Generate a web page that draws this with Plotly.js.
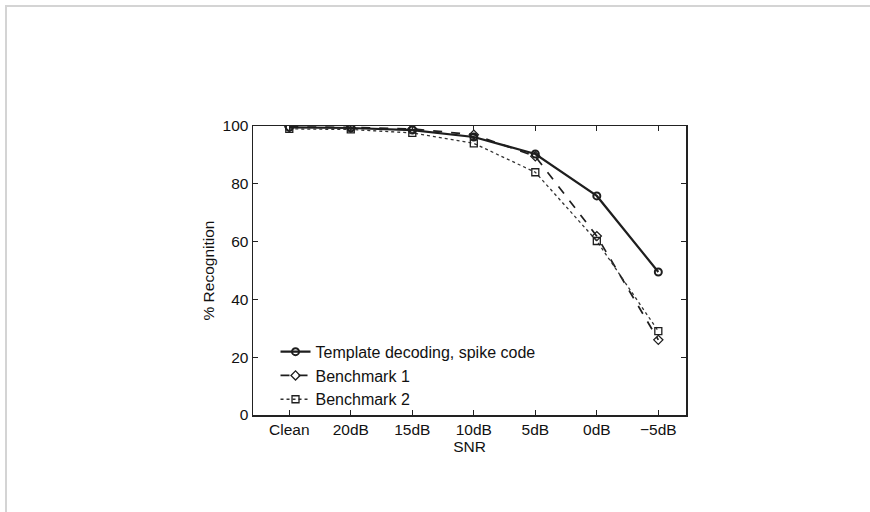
<!DOCTYPE html>
<html>
<head>
<meta charset="utf-8">
<script src="https://cdn.plot.ly/plotly-3.0.1.min.js"></script>
<style>
html,body{margin:0;padding:0;background:#fff;}
#frame{position:absolute;left:0;top:0;width:870px;height:512px;}
#edge{position:absolute;left:5px;top:5px;width:865px;height:507px;border-top:2px solid #d4d4d4;border-left:2px solid #d4d4d4;box-sizing:border-box;pointer-events:none;}
#chart{position:absolute;left:0;top:0;width:870px;height:512px;}
</style>
</head>
<body>
<div id="frame">
<div id="chart"></div>
<div id="edge"></div>
</div>
<script>
var snrLabels = ["Clean", "20dB", "15dB", "10dB", "5dB", "0dB", "\u22125dB"];
var templateSpike = [99.5, 99.3, 98.6, 96.2, 90.3, 75.8, 49.5];
var benchmark1 = [99.7, 99.5, 99.0, 97.0, 89.5, 61.9, 26.0];
var benchmark2 = [99.0, 98.8, 97.6, 94.0, 84.0, 60.2, 29.0];
var seriesNames = ["Template decoding, spike code", "Benchmark 1", "Benchmark 2"];

var xIdx = snrLabels.map(function(_, i){ return i; });
var ink = "#1e1e1e";

var traces = [
  {x: xIdx, y: templateSpike, name: seriesNames[0], mode: "lines+markers",
   line: {color: ink, width: 2.2, dash: "solid"},
   marker: {symbol: "circle-open", size: 7, color: ink, line: {width: 2, color: ink}}},
  {x: xIdx, y: benchmark1, name: seriesNames[1], mode: "lines+markers",
   line: {color: ink, width: 1.7, dash: "dash"},
   marker: {symbol: "diamond-open", size: 7, color: ink, line: {width: 1.3, color: ink}}},
  {x: xIdx, y: benchmark2, name: seriesNames[2], mode: "lines+markers",
   line: {color: "#333", width: 1.3, dash: "dot"},
   marker: {symbol: "square-open", size: 7, color: ink, line: {width: 1.3, color: ink}}}
];

var layout = {
  width: 870, height: 512,
  margin: {l: 253, r: 184, t: 126, b: 97},
  paper_bgcolor: "#ffffff", plot_bgcolor: "#ffffff",
  font: {family: "Liberation Sans, Arial, sans-serif", size: 15, color: "#111"},
  showlegend: true,
  legend: {x: 0.052, y: -0.006, xanchor: "left", yanchor: "bottom",
           bgcolor: "rgba(0,0,0,0)", borderwidth: 0,
           font: {size: 16, color: "#111"}},
  xaxis: {
    range: [-0.59, 6.45], tickmode: "array", tickvals: xIdx, ticktext: snrLabels,
    ticks: "inside", ticklen: 5, tickcolor: "#222", mirror: "ticks",
    showline: true, linecolor: "#222", linewidth: 1.5, showgrid: false, zeroline: false,
    tickfont: {size: 15.5},
    title: {text: "SNR", standoff: 1, font: {size: 15.5}}
  },
  yaxis: {
    range: [0, 100], tickvals: [0, 20, 40, 60, 80, 100],
    ticks: "inside", ticklen: 5, tickcolor: "#222", mirror: "ticks",
    showline: true, linecolor: "#222", linewidth: 1.5, showgrid: false, zeroline: false,
    tickfont: {size: 15.5},
    title: {text: "% Recognition", standoff: 4, font: {size: 15.5}}
  }
};

Plotly.newPlot("chart", traces, layout, {displayModeBar: false, staticPlot: true});
</script>
</body>
</html>
